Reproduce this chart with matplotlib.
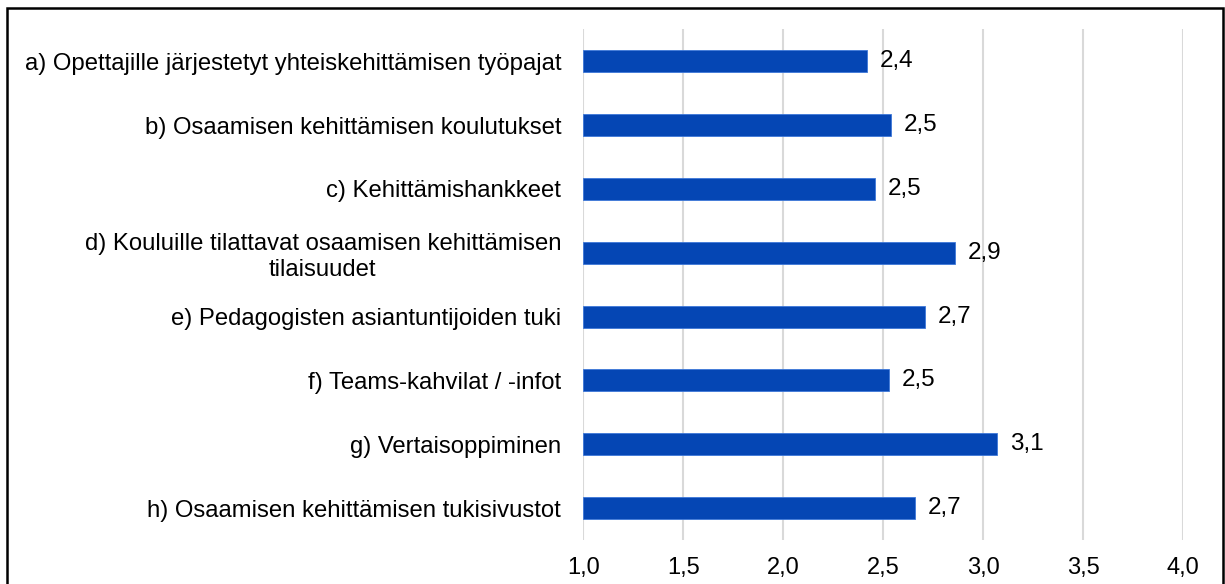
import matplotlib.pyplot as plt
from matplotlib.patches import Rectangle

plt.rcParams['font.family'] = ['Liberation Sans', 'DejaVu Sans']

labels = [
    "a) Opettajille järjestetyt yhteiskehittämisen työpajat",
    "b) Osaamisen kehittämisen koulutukset",
    "c) Kehittämishankkeet",
    "d) Kouluille tilattavat osaamisen kehittämisen\ntilaisuudet",
    "e) Pedagogisten asiantuntijoiden tuki",
    "f) Teams-kahvilat / -infot",
    "g) Vertaisoppiminen",
    "h) Osaamisen kehittämisen tukisivustot",
]
values = [2.42, 2.54, 2.46, 2.86, 2.71, 2.53, 3.07, 2.66]
xticks = [1.0, 1.5, 2.0, 2.5, 3.0, 3.5, 4.0]

bar_color = '#0546b4'
base = 1.0

fig = plt.figure(figsize=(12.25, 5.84), dpi=100)
ax = fig.add_axes([0.4762, 0.0753, 0.4898, 0.8745])

ypos = list(range(len(labels)))
widths = [v - base for v in values]
ax.barh(ypos, widths, left=base, height=0.345, color=bar_color,
        edgecolor='#3d78d8', linewidth=0.6, zorder=3)

for y, v in zip(ypos, values):
    ax.annotate(f"{v:.1f}".replace('.', ','), xy=(v, y), xytext=(9, 0),
                textcoords='offset points', va='center', ha='left',
                fontsize=17.5, color='black')

ax.set_xlim(1.0, 4.0)
ax.set_ylim(7.5, -0.5)
ax.set_xticks(xticks)
ax.set_xticklabels([f"{t:.1f}".replace('.', ',') for t in xticks], fontsize=17)
ax.set_yticks(ypos)
ax.set_yticklabels(labels, fontsize=17.2)
for lab in ax.get_yticklabels():
    lab.set_multialignment('center')

ax.grid(axis='x', color='#d9d9d9', linewidth=1.5, zorder=0)
ax.tick_params(axis='both', length=0)
ax.tick_params(axis='y', pad=16)
ax.tick_params(axis='x', pad=12)
for s in ax.spines.values():
    s.set_visible(False)

# outer frame (bottom edge lies outside the image)
fig.patches.append(Rectangle((7 / 1225, -0.05), 1216 / 1225, 1.05 - 7.5 / 584,
                             transform=fig.transFigure, fill=False,
                             edgecolor='black', linewidth=1.8))

fig.savefig('out.png', dpi=100)
